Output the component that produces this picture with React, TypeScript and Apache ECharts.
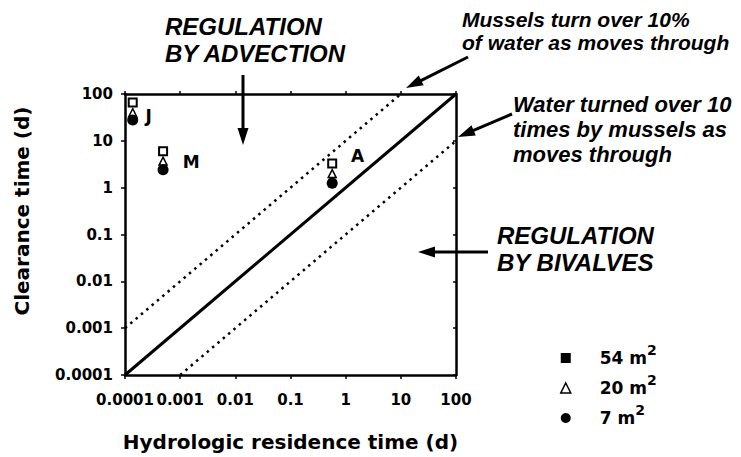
import React, { useEffect, useRef } from "react";
import * as echarts from "echarts";

// ---- data ----
const tickLabels = ["0.0001", "0.001", "0.01", "0.1", "1", "10", "100"];
const sites = ["J", "M", "A"];
const residenceTime = [0.000138, 0.00049, 0.57];
const clearance54 = [66, 6.0, 3.3];
const clearance20 = [40, 3.7, 2.0];
const clearance7 = [28, 2.4, 1.25];
const seriesNames = ["54 m2", "20 m2", "7 m2"];
const areaValues = ["54", "20", "7"];
const equalLine = [[0.0001, 0.0001], [100, 100]];
const tenPercentLine = [[0.0001, 0.001], [10, 100]];
const tenTimesLine = [[0.001, 0.0001], [100, 10]];

// ---- styling ----
const AXIS_FONT = '"DejaVu Sans", "Liberation Sans", sans-serif';
const NOTE_FONT = '"Liberation Sans", Arial, sans-serif';
const siteLabelOffsets = [[8, 3], [15, 1], [14, -18]];

function arrow(x1: number, y1: number, x2: number, y2: number, headLen = 17, headHalf = 5.5) {
  const dx = x2 - x1, dy = y2 - y1;
  const len = Math.hypot(dx, dy);
  const ux = dx / len, uy = dy / len;
  const bx = x2 - ux * headLen, by = y2 - uy * headLen;
  const px = -uy, py = ux;
  return {
    type: "group",
    children: [
      { type: "line", shape: { x1, y1, x2: bx + ux * 2, y2: by + uy * 2 }, style: { stroke: "#000", lineWidth: 3 } },
      {
        type: "polygon",
        shape: { points: [[x2, y2], [bx + px * headHalf, by + py * headHalf], [bx - px * headHalf, by - py * headHalf]] },
        style: { fill: "#000" },
      },
    ],
  };
}

// multi-line note; y is the vertical centre of the first line
function note(lines: string[], x: number, y: number, size: number, lineHeight: number) {
  return {
    type: "text",
    x,
    y: y - lineHeight / 2,
    style: {
      text: lines.join("\n"),
      font: `italic bold ${size}px ${NOTE_FONT}`,
      lineHeight,
      fill: "#000",
      textAlign: "left",
      textVerticalAlign: "top",
    },
  };
}

const tickFmt = (v: number) => tickLabels[Math.round(Math.log10(v)) + 4] ?? "";

const logAxisBase = {
  type: "log",
  logBase: 10,
  min: 0.0001,
  max: 100,
  splitNumber: 6,
  splitLine: { show: false },
  minorTick: { show: false },
};

const labelFont = { color: "#000", fontFamily: AXIS_FONT, fontWeight: "bold", fontSize: 15 };

const option: any = {
  animation: false,
  backgroundColor: "#fff",
  grid: { left: 125, right: 285, top: 94, bottom: 82, containLabel: false },
  xAxis: [
    {
      ...logAxisBase,
      position: "bottom",
      axisLine: { show: true, lineStyle: { color: "#000", width: 2.5 } },
      axisTick: { show: true, inside: false, length: 4, lineStyle: { color: "#000", width: 1.5 } },
      axisLabel: { ...labelFont, formatter: tickFmt, margin: 17, showMinLabel: true, showMaxLabel: true, hideOverlap: false },
      name: "Hydrologic residence time (d)",
      nameLocation: "middle",
      nameGap: 57,
      nameTextStyle: { color: "#000", fontFamily: AXIS_FONT, fontWeight: "bold", fontSize: 20 },
    },
    {
      ...logAxisBase,
      position: "top",
      axisLine: { show: true, lineStyle: { color: "#000", width: 2.5 } },
      axisTick: { show: true, inside: false, length: 3, lineStyle: { color: "#000", width: 1.5 } },
      axisLabel: { show: false },
    },
  ],
  yAxis: [
    {
      ...logAxisBase,
      position: "left",
      axisLine: { show: true, lineStyle: { color: "#000", width: 2.5 } },
      axisTick: { show: true, inside: false, length: 4, lineStyle: { color: "#000", width: 1.5 } },
      axisLabel: { ...labelFont, formatter: tickFmt, margin: 12, showMinLabel: true, showMaxLabel: true, hideOverlap: false },
    },
    {
      ...logAxisBase,
      position: "right",
      axisLine: { show: true, lineStyle: { color: "#000", width: 2.5 } },
      axisTick: { show: true, inside: true, length: 3, lineStyle: { color: "#000", width: 1.5 } },
      axisLabel: { show: false },
    },
  ],
  legend: {
    orient: "vertical",
    left: 555,
    top: 338,
    itemWidth: 10,
    itemHeight: 10,
    itemGap: 0,
    selectedMode: false,
    formatter: (name: string) => `${areaValues[seriesNames.indexOf(name)]} m{sup|2}`,
    textStyle: {
      color: "#000",
      fontFamily: AXIS_FONT,
      fontWeight: "bold",
      fontSize: 17,
      lineHeight: 30,
      padding: [0, 0, 0, 24],
      rich: {
        sup: { fontSize: 14, fontWeight: "bold", fontFamily: AXIS_FONT, color: "#000", verticalAlign: "top", lineHeight: 15 },
      },
    },
    data: [
      { name: seriesNames[0], icon: "rect", itemStyle: { color: "#000", borderWidth: 0, opacity: 1 } },
      { name: seriesNames[1], icon: "triangle", itemStyle: { color: "#fff", borderColor: "#000", borderWidth: 1.5, opacity: 1 } },
      { name: seriesNames[2], icon: "circle", itemStyle: { color: "#000", borderWidth: 0, opacity: 1 } },
    ],
  },
  series: [
    {
      type: "line",
      data: equalLine,
      symbol: "none",
      lineStyle: { color: "#000", width: 3 },
      silent: true,
    },
    {
      type: "line",
      data: tenPercentLine,
      symbol: "none",
      lineStyle: { color: "#000", width: 2.5, type: [2.5, 4.5] },
      silent: true,
    },
    {
      type: "line",
      data: tenTimesLine,
      symbol: "none",
      lineStyle: { color: "#000", width: 2.5, type: [2.5, 4.5] },
      silent: true,
    },
    {
      name: seriesNames[0],
      type: "scatter",
      symbol: "rect",
      symbolSize: 8,
      itemStyle: { color: "#fff", borderColor: "#000", borderWidth: 2, opacity: 1 },
      data: residenceTime.map((x, i) => [x, clearance54[i]]),
    },
    {
      name: seriesNames[1],
      type: "scatter",
      symbol: "triangle",
      symbolSize: 8,
      itemStyle: { color: "#fff", borderColor: "#000", borderWidth: 1.5, opacity: 1 },
      data: residenceTime.map((x, i) => ({
        value: [x, clearance20[i]],
        label: { offset: siteLabelOffsets[i] },
      })),
      label: {
        show: true,
        position: "right",
        distance: 0,
        formatter: (p: any) => sites[p.dataIndex],
        color: "#000",
        opacity: 1,
        fontFamily: AXIS_FONT,
        fontWeight: "bold",
        fontSize: 17,
      },
    },
    {
      name: seriesNames[2],
      type: "scatter",
      symbol: "circle",
      symbolSize: 11,
      itemStyle: { color: "#000", opacity: 1 },
      data: residenceTime.map((x, i) => [x, clearance7[i]]),
    },
  ],
  graphic: [
    note(["REGULATION", "BY ADVECTION"], 165, 26, 24, 27.5),
    note(["Mussels turn over 10%", "of water as moves through"], 462, 19, 21, 23.5),
    note(["Water turned over 10", "times by mussels as", "moves through"], 513, 104, 22, 25),
    note(["REGULATION", "BY BIVALVES"], 497, 235.5, 24, 27),
    arrow(243, 75, 243, 145),
    arrow(468, 57, 406, 88),
    arrow(512, 114, 458, 137),
    arrow(488, 252, 418, 252),
    {
      type: "text",
      x: 22,
      y: 211,
      rotation: Math.PI / 2,
      style: {
        text: "Clearance time (d)",
        font: `bold 20px ${AXIS_FONT}`,
        fill: "#000",
        textAlign: "center",
        textVerticalAlign: "middle",
      },
    },
  ],
};

export default function App() {
  const ref = useRef<HTMLDivElement>(null);
  useEffect(() => {
    const chart = echarts.init(ref.current!, null, { renderer: "svg" });
    chart.setOption(option);
    return () => chart.dispose();
  }, []);
  return (
    <div
      ref={ref}
      style={{ position: "fixed", left: 0, top: 0, width: 741, height: 457, background: "#fff" }}
    />
  );
}
